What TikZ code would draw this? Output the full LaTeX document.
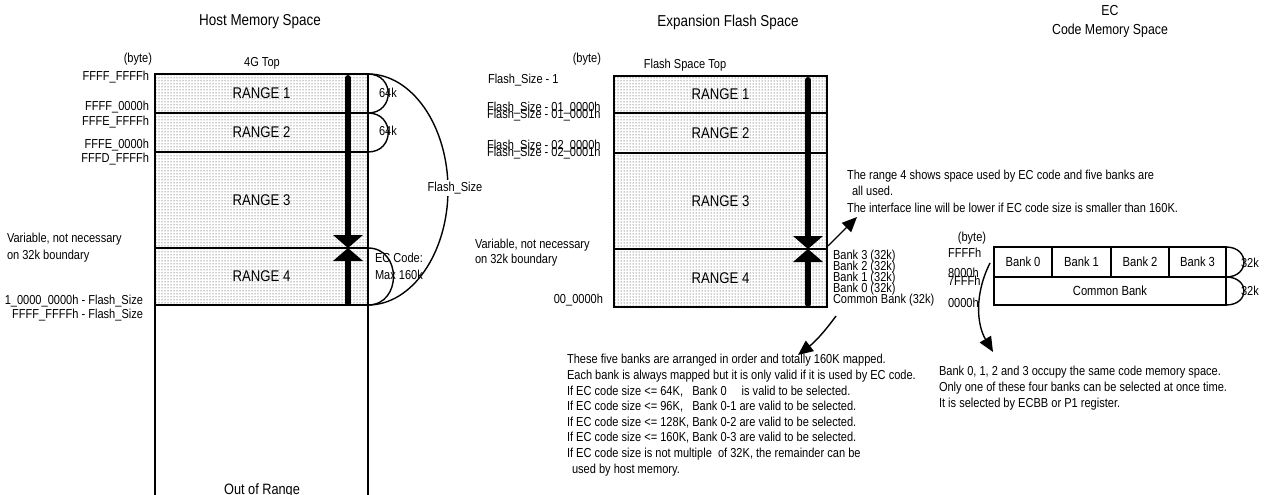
\documentclass[tikz,border=0pt]{standalone}
\usepackage{fontspec}
\setmainfont[FakeStretch=0.85]{Liberation Sans}
\usetikzlibrary{patterns,arrows.meta}
\begin{document}
\begin{tikzpicture}[x=1pt,y=-1pt,
  every node/.style={inner sep=0pt, outer sep=0pt},
  lbl/.style={font=\fontsize{13}{14}\selectfont},
  ttl/.style={font=\fontsize{15.8}{17}\selectfont},
  rng/.style={draw, line width=1.6pt, pattern=dots, pattern color=black!85, font=\fontsize{15.5}{17}\selectfont, minimum width=213pt},
  bank/.style={draw, line width=1.6pt, font=\fontsize{13.2}{15}\selectfont},
  brace/.style={line width=1.4pt},
  bar/.style={line width=6pt, line cap=round},
  tri/.style={fill=black},
  note/.style={-{Triangle[length=15pt,width=13pt]}, line width=1.4pt},
]
\useasboundingbox (0,0) rectangle (1270,495);

% ---------------- Host Memory Space ----------------
\node[ttl] (htitle) at (260,22) {Host Memory Space};
\node[lbl] (htop) at (262,63) {4G Top};
\node[lbl, anchor=east] (hbyte) at (152,59) {(byte)};
\node[rng, minimum height=39pt] (h1) at (261.5,93.5) {RANGE 1};
\node[rng, minimum height=39pt] (h2) at (261.5,132.5) {RANGE 2};
\node[rng, minimum height=96pt] (h3) at (261.5,200) {RANGE 3};
\node[rng, minimum height=57pt] (h4) at (261.5,276.5) {RANGE 4};
\draw[line width=1.6pt] (h4.south west) -- (155,500);
\draw[line width=1.6pt] (h4.south east) -- (368,500);
\node[lbl, font=\fontsize{15}{16}\selectfont] (hout) at (262,491) {Out of Range};

\node[lbl, anchor=east] (ha1) at (149,77) {FFFF\_FFFFh};
\node[lbl, anchor=east] (ha2) at (149,107) {FFFF\_0000h};
\node[lbl, anchor=east] (ha3) at (149,122) {FFFE\_FFFFh};
\node[lbl, anchor=east] (ha4) at (149,145) {FFFE\_0000h};
\node[lbl, anchor=east] (ha5) at (149,159) {FFFD\_FFFFh};
\node[lbl, anchor=west] (hv1) at (7,239) {Variable, not necessary};
\node[lbl, anchor=west] (hv2) at (7,256) {on 32k boundary};
\node[lbl, anchor=east] (ha6) at (143,301) {1\_0000\_0000h - Flash\_Size};
\node[lbl, anchor=east] (ha7) at (143,315) {FFFF\_FFFFh - Flash\_Size};

% thick arrows
\draw[bar] (348,78) -- (348,236);
\fill[tri] (333,235) -- (363,235) -- (348,248) -- cycle;
\fill[tri] (333,261) -- (363,261) -- (348,248) -- cycle;
\draw[bar] (348,260) -- (348,303);

% brackets
\draw[brace] (h1.north east) .. controls (395,74) and (395,113) .. (h1.south east);
\draw[brace] (h2.north east) .. controls (395,113) and (395,152) .. (h2.south east);
\node[lbl] (k1) at (388,93) {64k};
\node[lbl] (k2) at (388,131) {64k};
\draw[brace] (h1.north east) .. controls (412,74) and (448,126) .. (448,189.5)
   .. controls (448,253) and (412,305) .. (h4.south east);
\node[lbl, fill=white, inner sep=2pt] (fs) at (455,188) {Flash\_Size};
\draw[brace] (h4.north east) .. controls (402,248) and (402,305) .. (h4.south east);
\node[lbl, anchor=west] (ec1) at (375,258) {EC Code:};
\node[lbl, anchor=west] (ec2) at (375,275) {Max 160k};

% ---------------- Expansion Flash Space ----------------
\node[ttl] (ftitle) at (728,22) {Expansion Flash Space};
\node[lbl] (ftop) at (685,65) {Flash Space Top};
\node[lbl, anchor=east] (fbyte) at (601,59) {(byte)};
\node[rng, minimum height=37pt] (f1) at (720.5,94.5) {RANGE 1};
\node[rng, minimum height=40pt] (f2) at (720.5,133) {RANGE 2};
\node[rng, minimum height=96pt] (f3) at (720.5,201) {RANGE 3};
\node[rng, minimum height=58pt] (f4) at (720.5,278) {RANGE 4};

\node[lbl, anchor=west] (fa1) at (488,80) {Flash\_Size - 1};
\node[lbl, anchor=west] (fa2) at (487,108) {Flash\_Size - 01\_0000h};
\node[lbl, anchor=west] (fa3) at (487,115.5) {Flash\_Size - 01\_0001h};
\node[lbl, anchor=west] (fa4) at (487,146.5) {Flash\_Size - 02\_0000h};
\node[lbl, anchor=west] (fa5) at (487,153.5) {Flash\_Size - 02\_0001h};
\node[lbl, anchor=west] (fv1) at (475,245) {Variable, not necessary};
\node[lbl, anchor=west] (fv2) at (475,260) {on 32k boundary};
\node[lbl, anchor=east] (fa6) at (603,300) {00\_0000h};

\draw[bar] (808,80) -- (808,237);
\fill[tri] (793,236) -- (823,236) -- (808,249) -- cycle;
\fill[tri] (793,262) -- (823,262) -- (808,249) -- cycle;
\draw[bar] (808,261) -- (808,304);

\node[lbl, anchor=west] (bk3) at (833,256) {Bank 3 (32k)};
\node[lbl, anchor=west] (bk2) at (833,267) {Bank 2 (32k)};
\node[lbl, anchor=west] (bk1) at (833,278) {Bank 1 (32k)};
\node[lbl, anchor=west] (bk0) at (833,289) {Bank 0 (32k)};
\node[lbl, anchor=west] (bkc) at (833,300) {Common Bank (32k)};

\node[lbl, anchor=north west, align=left, font=\fontsize{13}{16.5}\selectfont] (topnote) at (847,170)
  {The range 4 shows space used by EC code and five banks are\\
   \hspace{5pt}all used.\\
   The interface line will be lower if EC code size is smaller than 160K.};
\coordinate (upA) at (828,246);
\coordinate (upB) at (857,217);
\draw[note] (upA) -- (upB);

\node[lbl, anchor=north west, align=left, font=\fontsize{13}{15.6}\selectfont] (lownote) at (567,354.5)
  {These five banks are arranged in order and totally 160K mapped.\\
   Each bank is always mapped but it is only valid if it is used by EC code.\\
   If EC code size <= 64K,\ \ \ Bank 0\hspace{15pt}is valid to be selected.\\
   If EC code size <= 96K,\ \ \ Bank 0-1 are valid to be selected.\\
   If EC code size <= 128K, Bank 0-2 are valid to be selected.\\
   If EC code size <= 160K, Bank 0-3 are valid to be selected.\\
   If EC code size is not multiple\ \ of 32K, the remainder can be\\
   \hspace{5pt}used by host memory.};
\coordinate (dnA) at (836,316);
\coordinate (dnB) at (798,355);
\draw[note] (dnA) to[bend left=8] (dnB);

% ---------------- EC Code Memory Space ----------------
\node[ttl, font=\fontsize{14.5}{16}\selectfont] (etitle1) at (1110,11) {EC};
\node[ttl, font=\fontsize{14.5}{16}\selectfont] (etitle2) at (1110,31) {Code Memory Space};
\node[lbl] (ebyte) at (972,238) {(byte)};
\node[lbl, anchor=west] (ea1) at (948,253) {FFFFh};
\node[lbl, anchor=west] (ea2) at (948,273) {8000h};
\node[lbl, anchor=west] (ea3) at (948,281) {7FFFh};
\node[lbl, anchor=west] (ea4) at (948,303) {0000h};

\node[bank, minimum width=58pt, minimum height=30pt] (b0) at (1023,262) {Bank 0};
\node[bank, minimum width=59pt, minimum height=30pt] (b1) at (1081.5,262) {Bank 1};
\node[bank, minimum width=58pt, minimum height=30pt] (b2) at (1140,262) {Bank 2};
\node[bank, minimum width=57pt, minimum height=30pt] (b3) at (1197.5,262) {Bank 3};
\node[bank, minimum width=232pt, minimum height=28pt] (bc) at (1110,291) {Common Bank};

\draw[brace] (b3.north east) .. controls (1250,247) and (1250,277) .. (b3.south east);
\draw[brace] (bc.north east) .. controls (1250,277) and (1250,305) .. (bc.south east);
\node[lbl] (s1) at (1250,263) {32k};
\node[lbl] (s2) at (1250,291) {32k};

\coordinate (ecA) at (990,263);
\coordinate (ecB) at (993,352);
\draw[note] (ecA) .. controls (974,295) and (977,325) .. (ecB);

\node[lbl, anchor=north west, align=left, font=\fontsize{13}{16}\selectfont] (rnote) at (939,366)
  {Bank 0, 1, 2 and 3 occupy the same code memory space.\\
   Only one of these four banks can be selected at once time.\\
   It is selected by ECBB or P1 register.};
\end{tikzpicture}
\end{document}
